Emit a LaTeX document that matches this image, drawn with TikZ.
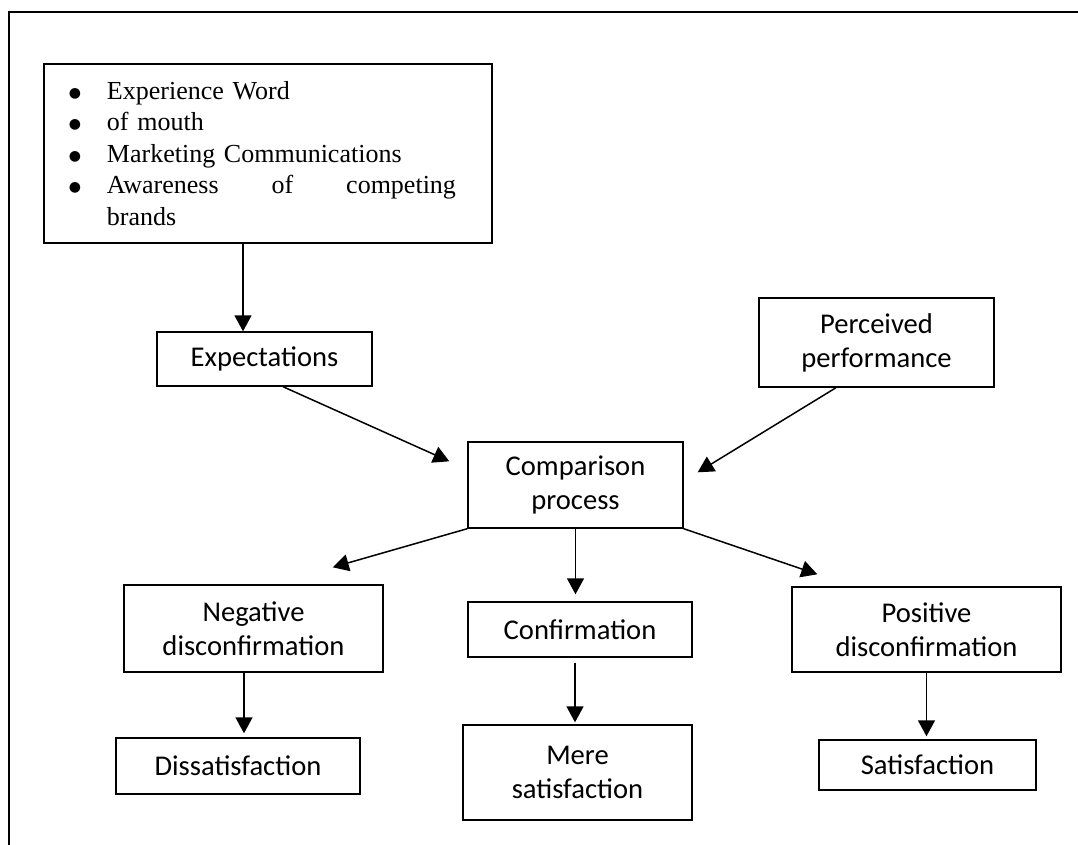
\documentclass[tikz,border=0pt]{standalone}
\usepackage{fontspec}
\setmainfont{Liberation Serif}
\newfontfamily\calibri{Carlito}
\newfontfamily\dejavu{DejaVu Sans}
\usetikzlibrary{arrows.meta,calc}

\newcommand{\srcitem}[1]{\hspace*{12.5pt}\makebox[19pt][l]{\raisebox{1pt}{\dejavu\fontsize{7}{7}\selectfont ●}}#1}

\begin{document}
\begin{tikzpicture}[
  x=0.5pt, y=-0.5pt,
  stage/.style={draw, line width=0.7pt, align=center, inner sep=0pt,
                font=\calibri\fontsize{14.3}{17}\selectfont},
  arr/.style={line width=0.75pt, -{Triangle[length=8pt,width=8.5pt]}},
  outerline/.style={line width=1.3pt},
]
\useasboundingbox (0,0) rectangle (1078,845);
\draw[outerline] (9,845) -- (9,12) -- (1078,12);

% sources of expectations
\node[draw, line width=0.7pt, inner sep=0pt, text width=224pt, minimum height=89.5pt,
      align=left, font=\fontsize{13}{15.75}\selectfont] (src) at (268,153.5) {%
  \srcitem{Experience Word}\\
  \srcitem{of mouth}\\
  \srcitem{Marketing Communications}\\
  \srcitem{\makebox[174.5pt][s]{Awareness\hfill of\hfill competing}}\\
  \hspace*{31.5pt}brands};

\node[stage, minimum width=107.5pt, minimum height=27pt]   (exp)  at (264.5,359)   {Expectations};
\node[stage, minimum width=117.5pt, minimum height=44.5pt] (perf) at (876.5,342.5) {Perceived\\performance};
\node[stage, minimum width=107.5pt, minimum height=43pt]   (comp) at (575.5,485)   {Comparison\\process};
\node[stage, minimum width=129.5pt, minimum height=43.5pt] (neg)  at (253.5,628.5) {Negative\\disconfirmation};
\node[stage, minimum width=112pt,   minimum height=27.5pt] (conf) at (580,629.5)   {Confirmation};
\node[stage, minimum width=134.5pt, minimum height=42.5pt] (pos)  at (926.5,629.5) {Positive\\disconfirmation};
\node[stage, minimum width=122pt,   minimum height=28pt]   (dis)  at (238,766)     {Dissatisfaction};
\node[stage, minimum width=114.5pt, minimum height=47.5pt] (mere) at (577.5,772.5) {Mere\\satisfaction};
\node[stage, minimum width=108.5pt, minimum height=25pt]   (sat)  at (927.5,765)   {Satisfaction};

\draw[arr] ([xshift=-12.5pt]src.south) -- ([xshift=-12.5pt]src.south |- exp.north);
\draw[arr] ([xshift=9.25pt]exp.south) -- ([xshift=-9pt,yshift=-10pt]comp.north west);
\draw[arr] ([xshift=-20.25pt]perf.south) -- ([xshift=7pt,yshift=-15.5pt]comp.north east);
\draw[arr] (comp.south west) -- ([xshift=-25.5pt,yshift=8.5pt]neg.north east);
\draw[arr, shorten >=3.5pt] (comp.south) -- (comp.south |- conf.north);
\draw[arr] (comp.south east) -- ([xshift=13pt,yshift=6pt]pos.north west);
\draw[arr, shorten >=2pt] ([xshift=-4.75pt]neg.south) -- ([xshift=-4.75pt]neg.south |- dis.north);
\draw[arr, shorten <=2.5pt, shorten >=1pt] ([xshift=-2.5pt]conf.south) -- ([xshift=-2.5pt]conf.south |- mere.north);
\draw[arr, shorten >=1.5pt] (pos.south) -- (pos.south |- sat.north);
\end{tikzpicture}
\end{document}
